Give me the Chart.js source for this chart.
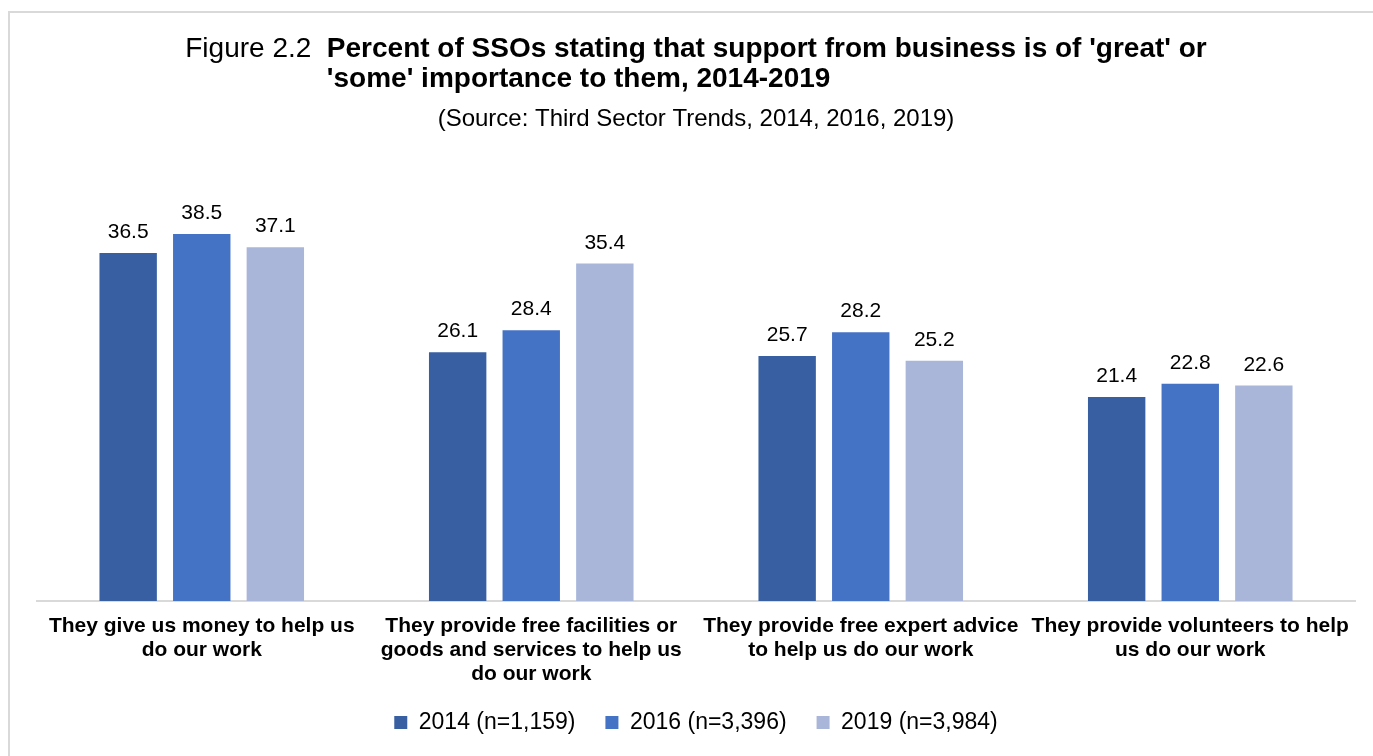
<!DOCTYPE html>
<html>
<head>
<meta charset="utf-8">
<script src="https://cdn.jsdelivr.net/npm/chart.js@4"></script>
<style>
  html, body { margin: 0; padding: 0; background: #fff; overflow: hidden; }
  #frame { position: absolute; left: 8px; top: 11px; width: 1400px; height: 800px;
           border-left: 2px solid #d9d9d9; border-top: 2px solid #d9d9d9; }
  #wrap { position: absolute; left: 0; top: 0; width: 1373px; height: 756px; }
</style>
</head>
<body>
<div id="frame"></div>
<div id="wrap"><canvas id="myChart" width="1373" height="756"></canvas></div>
<script>
const FONT = "'Liberation Sans', Arial, sans-serif";

// categorias (rótulos do eixo x, já quebrados em linhas)
const categories = [
  ["They give us money to help us", "do our work"],
  ["They provide free facilities or", "goods and services to help us", "do our work"],
  ["They provide free expert advice", "to help us do our work"],
  ["They provide volunteers to help", "us do our work"]
];
const seriesNames = ["2014 (n=1,159)", "2016 (n=3,396)", "2019 (n=3,984)"];
const values2014 = [36.5, 26.1, 25.7, 21.4];
const values2016 = [38.5, 28.4, 28.2, 22.8];
const values2019 = [37.1, 35.4, 25.2, 22.6];
const colors = ["#375fa1", "#4472c4", "#a9b6da"];

const titleLead = "Figure 2.2  ";
const titleLines = ["Percent of SSOs stating that support from business is of 'great' or",
                    "'some' importance to them, 2014-2019"];
const subtitle = "(Source: Third Sector Trends, 2014, 2016, 2019)";

// título com "Figure 2.2" normal e o resto em negrito
const tituloPlugin = {
  id: "tituloFigura",
  afterDraw(chart) {
    const ctx = chart.ctx;
    const cx = (chart.chartArea.left + chart.chartArea.right) / 2;
    ctx.save();
    ctx.fillStyle = "#000";
    ctx.textBaseline = "alphabetic";
    ctx.textAlign = "left";
    ctx.font = "28px " + FONT;
    const w1 = ctx.measureText(titleLead).width;
    ctx.font = "bold 28px " + FONT;
    const w2 = ctx.measureText(titleLines[0]).width;
    const x0 = cx - (w1 + w2) / 2;
    ctx.font = "28px " + FONT;
    ctx.fillText(titleLead, x0, 57);
    ctx.font = "bold 28px " + FONT;
    ctx.fillText(titleLines[0], x0 + w1, 57);
    ctx.fillText(titleLines[1], x0 + w1, 87);
    ctx.font = "24px " + FONT;
    ctx.textAlign = "center";
    ctx.fillText(subtitle, cx, 126);
    ctx.restore();
  }
};

// valores em cima de cada barra
const rotulosPlugin = {
  id: "rotulosBarras",
  afterDatasetsDraw(chart) {
    const ctx = chart.ctx;
    ctx.save();
    ctx.font = "21px " + FONT;
    ctx.fillStyle = "#000";
    ctx.textAlign = "center";
    ctx.textBaseline = "alphabetic";
    chart.data.datasets.forEach((ds, i) => {
      chart.getDatasetMeta(i).data.forEach((bar, j) => {
        ctx.fillText(ds.data[j].toFixed(1), bar.x, bar.y - 15);
      });
    });
    ctx.restore();
  }
};

// altura fixa da legenda
const legendaAltura = {
  id: "legendaAltura",
  beforeInit(chart) {
    const fitOriginal = chart.legend.fit;
    chart.legend.fit = function () {
      fitOriginal.bind(chart.legend)();
      this.height = 64;
    };
  }
};

const ctx = document.querySelector("#myChart");
new Chart(ctx, {
  type: "bar",
  data: {
    labels: categories,
    datasets: [
      { label: seriesNames[0], data: values2014, backgroundColor: colors[0] },
      { label: seriesNames[1], data: values2016, backgroundColor: colors[1] },
      { label: seriesNames[2], data: values2019, backgroundColor: colors[2] }
    ]
  },
  options: {
    responsive: false,
    animation: false,
    maintainAspectRatio: false,
    barPercentage: 0.78,
    categoryPercentage: 0.67,
    layout: { padding: { top: 172, left: 37, right: 18, bottom: 11 } },
    scales: {
      y: { display: false, min: 0, max: 45 },
      x: {
        grid: { drawOnChartArea: false, drawTicks: false },
        border: { color: "#d9d9d9", width: 2 },
        ticks: {
          color: "#000",
          padding: 13,
          maxRotation: 0,
          autoSkip: false,
          font: { family: FONT, size: 21, weight: "bold", lineHeight: 1.15 }
        },
        afterFit(scale) { scale.height = 80; }
      }
    },
    plugins: {
      title: { display: false },
      tooltip: { enabled: false },
      legend: {
        position: "bottom",
        labels: {
          color: "#000",
          boxWidth: 13,
          boxHeight: 13,
          padding: 30,
          font: { family: FONT, size: 23 }
        }
      }
    }
  },
  plugins: [legendaAltura, rotulosPlugin, tituloPlugin]
});
</script>
</body>
</html>
